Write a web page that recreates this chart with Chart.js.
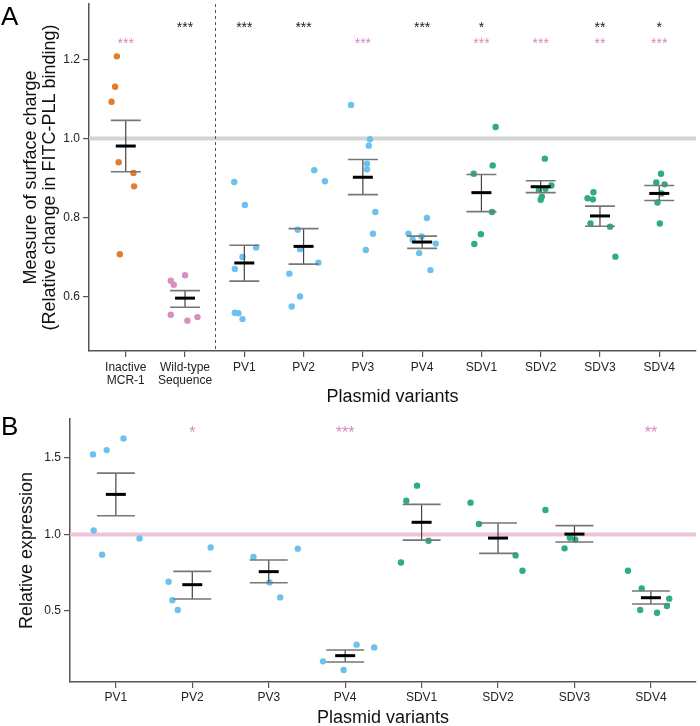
<!DOCTYPE html>
<html>
<head>
<meta charset="utf-8">
<script src="https://cdn.jsdelivr.net/npm/chart.js@4.4.1/dist/chart.umd.min.js"></script>
<style>
  html, body { margin: 0; padding: 0; background: #fff; }
  #wrap { position: relative; width: 700px; height: 726px; }
  #chartA { position: absolute; left: 0; top: 0; }
  #chartB { position: absolute; left: 0; top: 405px; }
</style>
</head>
<body>
<div id="wrap">
  <canvas id="chartA" width="700" height="405"></canvas>
  <canvas id="chartB" width="700" height="321"></canvas>
</div>
<script>
// ---- Panel A data ----
const labelsA = [['Inactive', 'MCR-1'], ['Wild-type', 'Sequence'], 'PV1', 'PV2', 'PV3', 'PV4', 'SDV1', 'SDV2', 'SDV3', 'SDV4'];
const pointsA = [
    [1.208, 1.131, 1.093, 0.940, 0.913, 0.879, 0.707],
    [0.640, 0.630, 0.654, 0.554, 0.539, 0.548],
    [0.890, 0.832, 0.724, 0.700, 0.670, 0.559, 0.558, 0.543],
    [0.920, 0.892, 0.769, 0.720, 0.686, 0.658, 0.600, 0.575],
    [1.085, 0.998, 0.982, 0.936, 0.922, 0.814, 0.759, 0.718],
    [0.799, 0.759, 0.744, 0.752, 0.734, 0.710, 0.667],
    [1.029, 0.932, 0.911, 0.814, 0.758, 0.733],
    [0.949, 0.881, 0.870, 0.873, 0.853, 0.845],
    [0.864, 0.849, 0.846, 0.785, 0.777, 0.701],
    [0.911, 0.889, 0.884, 0.861, 0.838, 0.785]
];
// horizontal jitter of each point (in category units)
const jitterA = [
    [-0.15, -0.18, -0.24, -0.12, 0.13, 0.14, -0.10],
    [-0.24, -0.19, 0.00, -0.24, 0.04, 0.21],
    [-0.17, 0.01, 0.20, -0.03, -0.16, -0.16, -0.10, -0.03],
    [0.18, 0.36, -0.10, -0.06, 0.25, -0.24, -0.06, -0.20],
    [-0.20, 0.12, 0.10, 0.07, 0.07, 0.21, 0.17, 0.05],
    [0.08, -0.23, -0.16, -0.01, 0.23, -0.05, 0.14],
    [0.24, 0.19, -0.13, 0.18, -0.01, -0.12],
    [0.07, 0.18, -0.03, 0.08, 0.02, 0.00],
    [-0.11, -0.21, -0.12, -0.16, 0.17, 0.26],
    [0.03, -0.05, 0.09, 0.04, -0.03, 0.01]
];
const meanA = [0.981, 0.596, 0.685, 0.727, 0.902, 0.738, 0.863, 0.878, 0.804, 0.861];
const upperA = [1.046, 0.615, 0.730, 0.772, 0.947, 0.753, 0.909, 0.893, 0.829, 0.881];
const lowerA = [0.916, 0.573, 0.639, 0.682, 0.858, 0.722, 0.815, 0.863, 0.778, 0.843];
const blackStarsA = ['', '***', '***', '***', '', '***', '*', '', '**', '*'];
const pinkStarsA = ['***', '', '', '', '***', '', '***', '***', '**', '***'];
const ticksA = [0.6, 0.8, 1.0, 1.2];

// ---- Panel B data ----
const labelsB = ['PV1', 'PV2', 'PV3', 'PV4', 'SDV1', 'SDV2', 'SDV3', 'SDV4'];
const pointsB = [
    [1.522, 1.550, 1.626, 1.026, 0.868, 0.974],
    [0.915, 0.691, 0.570, 0.507],
    [0.853, 0.907, 0.687, 0.589],
    [0.172, 0.115, 0.281, 0.263],
    [1.318, 1.220, 0.959, 0.817],
    [1.207, 1.068, 0.863, 0.763],
    [1.159, 0.978, 0.965, 0.909],
    [0.763, 0.648, 0.581, 0.533, 0.507, 0.489]
];
const jitterB = [
    [-0.30, -0.12, 0.10, -0.29, -0.18, 0.31],
    [0.24, -0.31, -0.26, -0.19],
    [-0.20, 0.38, 0.01, 0.15],
    [-0.29, -0.02, 0.15, 0.38],
    [-0.06, -0.20, 0.09, -0.27],
    [-0.36, -0.25, 0.23, 0.32],
    [-0.38, -0.06, 0.01, -0.13],
    [-0.30, -0.12, 0.24, 0.21, -0.14, 0.08]
];
const meanB = [1.261, 0.672, 0.757, 0.209, 1.079, 0.976, 1.002, 0.587];
const upperB = [1.400, 0.759, 0.833, 0.246, 1.196, 1.074, 1.057, 0.631];
const lowerB = [1.122, 0.579, 0.685, 0.168, 0.963, 0.876, 0.950, 0.546];
const pinkStarsB = ['', '*', '', '***', '', '', '', '**'];
const ticksB = [0.5, 1.0, 1.5];

// Colours
const ORANGE = '#DF7D30';
const PINK = '#DA8EC0';
const BLUE = '#6DC1EE';
const GREEN = '#2EAD7E';
const colorsA = [ORANGE, PINK, BLUE, BLUE, BLUE, BLUE, GREEN, GREEN, GREEN, GREEN];
const colorsB = [BLUE, BLUE, BLUE, BLUE, GREEN, GREEN, GREEN, GREEN];
const FONT = "'Liberation Sans', Arial, sans-serif";

document.addEventListener('DOMContentLoaded', () => {
    buildChart('chartA', {
        labels: labelsA, points: pointsA, jitter: jitterA, colors: colorsA,
        mean: meanA, upper: upperA, lower: lowerA, yTicks: ticksA,
        xMin: 0.38, xMax: 10.62, yMin: 0.4622, yMax: 1.3405,
        axisWidth: 89, axisHeight: 54, padding: { top: 0, right: 1, left: 0, bottom: 0 },
        tickPadding: 4, capHalf: 15, meanHalf: 10,
        refValue: 1.0, refColor: '#D4D4D4', divider: 2.5,
        stars: [
            { marks: blackStarsA, y: 1.29, color: '#222', size: 14 },
            { marks: pinkStarsA, y: 1.25, color: '#D889BE', size: 14 }
        ],
        letter: 'A', letterY: 18,
        yTitle: ['Measure of surface charge', '(Relative change in FITC-PLL binding)'],
        yTitleX: [31, 50], titleSize: 18, xTitleY: 397
    });

    buildChart('chartB', {
        labels: labelsB, points: pointsB, jitter: jitterB, colors: colorsB,
        mean: meanB, upper: upperB, lower: lowerB, yTicks: ticksB,
        xMin: 0.4, xMax: 8.59, yMin: 0.0372, yMax: 1.7528,
        axisWidth: 70, axisHeight: 44, padding: { top: 14, right: 2, left: 0, bottom: 0 },
        tickPadding: 3, capHalf: 19, meanHalf: 10,
        refValue: 1.0, refColor: '#EDC3DC', divider: null,
        stars: [
            { marks: pinkStarsB, y: 1.687, color: '#D889BE', size: 16 }
        ],
        letter: 'B', letterY: 23,
        yTitle: ['Relative expression'],
        yTitleX: [27], titleSize: 18, xTitleY: 313
    });

    // Build one panel
    function buildChart(id, cfg) {
        const datasets = cfg.points.map((vals, i) => ({
            data: vals.map((v, j) => ({ x: i + 1 + cfg.jitter[i][j], y: v })),
            backgroundColor: cfg.colors[i],
            borderWidth: 0,
            pointRadius: 3.2
        }));

        new Chart(document.getElementById(id), {
            type: 'scatter',
            data: { datasets },
            options: {
                responsive: false,
                animation: false,
                layout: { padding: cfg.padding },
                plugins: { legend: { display: false }, tooltip: { enabled: false } },
                scales: {
                    x: {
                        type: 'linear',
                        min: cfg.xMin,
                        max: cfg.xMax,
                        afterBuildTicks: scale => {
                            scale.ticks = cfg.labels.map((l, i) => ({ value: i + 1 }));
                        },
                        afterFit: scale => {
                            scale.height = cfg.axisHeight;
                            scale.paddingLeft = 0;
                            scale.paddingRight = 0;
                        },
                        ticks: {
                            autoSkip: false,
                            maxRotation: 0,
                            padding: cfg.tickPadding,
                            color: '#222',
                            font: { family: FONT, size: 12, lineHeight: 1.1 },
                            callback: v => cfg.labels[Math.round(v) - 1]
                        },
                        grid: { drawOnChartArea: false, drawTicks: true, tickLength: 6, color: '#555', lineWidth: 1.2 },
                        border: { color: '#555', width: 1.5 }
                    },
                    y: {
                        min: cfg.yMin,
                        max: cfg.yMax,
                        afterBuildTicks: scale => {
                            scale.ticks = cfg.yTicks.map(v => ({ value: v }));
                        },
                        afterFit: scale => {
                            scale.width = cfg.axisWidth;
                            scale.paddingTop = 0;
                            scale.paddingBottom = 0;
                        },
                        ticks: {
                            padding: 3,
                            color: '#222',
                            font: { family: FONT, size: 12 },
                            callback: v => v.toFixed(1)
                        },
                        grid: { drawOnChartArea: false, drawTicks: true, tickLength: 6, color: '#555', lineWidth: 1.2 },
                        border: { color: '#555', width: 1.5 }
                    }
                }
            },
            plugins: [{
                id: 'decor',
                beforeDatasetsDraw(chart) {
                    const { ctx, chartArea, scales } = chart;
                    // reference line
                    const ry = scales.y.getPixelForValue(cfg.refValue);
                    ctx.save();
                    ctx.strokeStyle = cfg.refColor;
                    ctx.lineWidth = 4;
                    ctx.beginPath();
                    ctx.moveTo(chartArea.left, ry);
                    ctx.lineTo(chartArea.right, ry);
                    ctx.stroke();
                    // dashed divider
                    if (cfg.divider !== null) {
                        const dx = Math.round(scales.x.getPixelForValue(cfg.divider)) + 0.5;
                        ctx.strokeStyle = '#555';
                        ctx.lineWidth = 1;
                        ctx.setLineDash([3, 3]);
                        ctx.beginPath();
                        ctx.moveTo(dx, chartArea.top);
                        ctx.lineTo(dx, chartArea.bottom);
                        ctx.stroke();
                    }
                    ctx.restore();
                },
                afterDatasetsDraw(chart) {
                    const { ctx, scales } = chart;
                    ctx.save();
                    cfg.mean.forEach((m, i) => {
                        const cx = scales.x.getPixelForValue(i + 1);
                        const yTop = scales.y.getPixelForValue(cfg.upper[i]);
                        const yBot = scales.y.getPixelForValue(cfg.lower[i]);
                        const yMean = scales.y.getPixelForValue(m);
                        // stem
                        ctx.strokeStyle = '#444';
                        ctx.lineWidth = 1.2;
                        ctx.beginPath();
                        ctx.moveTo(cx, yTop);
                        ctx.lineTo(cx, yBot);
                        ctx.stroke();
                        // caps
                        ctx.strokeStyle = '#777';
                        ctx.lineWidth = 1.6;
                        ctx.beginPath();
                        ctx.moveTo(cx - cfg.capHalf, yTop);
                        ctx.lineTo(cx + cfg.capHalf, yTop);
                        ctx.moveTo(cx - cfg.capHalf, yBot);
                        ctx.lineTo(cx + cfg.capHalf, yBot);
                        ctx.stroke();
                        // mean
                        ctx.strokeStyle = '#000';
                        ctx.lineWidth = 3;
                        ctx.beginPath();
                        ctx.moveTo(cx - cfg.meanHalf, yMean);
                        ctx.lineTo(cx + cfg.meanHalf, yMean);
                        ctx.stroke();
                    });
                    ctx.restore();
                },
                afterDraw(chart) {
                    const { ctx, chartArea, scales } = chart;
                    ctx.save();
                    // significance stars
                    cfg.stars.forEach(row => {
                        ctx.fillStyle = row.color;
                        ctx.font = `${row.size}px ${FONT}`;
                        ctx.textAlign = 'center';
                        ctx.textBaseline = 'alphabetic';
                        const py = scales.y.getPixelForValue(row.y) + row.size * 0.58;
                        row.marks.forEach((s, i) => {
                            if (s) ctx.fillText(s, scales.x.getPixelForValue(i + 1), py);
                        });
                    });
                    // panel letter
                    ctx.fillStyle = '#000';
                    ctx.font = `26px ${FONT}`;
                    ctx.textAlign = 'left';
                    ctx.textBaseline = 'middle';
                    ctx.fillText(cfg.letter, 1, cfg.letterY);
                    // axis titles
                    ctx.fillStyle = '#111';
                    ctx.font = `18px ${FONT}`;
                    ctx.textAlign = 'center';
                    ctx.fillText('Plasmid variants', (chartArea.left + chartArea.right) / 2, cfg.xTitleY);
                    ctx.font = `${cfg.titleSize}px ${FONT}`;
                    const midY = (chartArea.top + chartArea.bottom) / 2;
                    cfg.yTitle.forEach((t, k) => {
                        ctx.save();
                        ctx.translate(cfg.yTitleX[k], midY);
                        ctx.rotate(-Math.PI / 2);
                        ctx.fillText(t, 0, 0);
                        ctx.restore();
                    });
                    ctx.restore();
                }
            }]
        });
    }
});
</script>
</body>
</html>
